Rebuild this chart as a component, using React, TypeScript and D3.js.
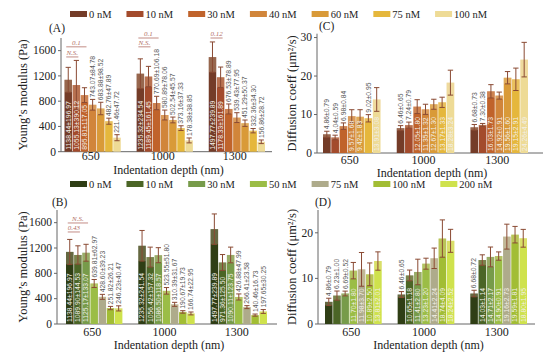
import React, { useEffect, useRef } from 'react'
import * as d3 from 'd3'

const depths = ['650', '1000', '1300']
const brownLabels = ['0 nM', '10 nM', '30 nM', '40 nM', '60 nM', '75 nM', '100 nM']
const greenLabels = ['0 nM', '10 nM', '30 nM', '50 nM', '75 nM', '100 nM', '200 nM']
const brownColors = ['#743c28', '#a34b2c', '#c0632b', '#d1853a', '#d99a38', '#e5b73c', '#eedb96']
const greenColors = ['#2f3e15', '#4b6526', '#779b4a', '#9bbd46', '#aeab8b', '#a2bd34', '#cfe24d']

// Young's modulus (Pa), brown series, one row per depth
const modulusA = [
  [1138.44, 1055.13, 895.81, 743.07, 683.88, 482.76, 221.46],
  [1235.32, 1189.45, 770.69, 580.89, 502.54, 373.16, 178.38],
  [1497.77, 1178.33, 676.53, 539.43, 451.29, 332.36, 156.86],
]
const modulusAErr = [
  [196.97, 390.12, 117.05, 84.78, 98.52, 47.89, 47.72],
  [234.54, 161.45, 106.18, 78.06, 45.57, 37.33, 38.85],
  [239.89, 161.89, 78.89, 77.95, 50.37, 34.3, 28.72],
]

// Young's modulus (Pa), green series
const modulusB = [
  [1138.44, 1089.9, 1125.17, 639.81, 428.6, 251.82, 246.23],
  [1235.32, 1056.42, 1086.5, 523.55, 310.39, 190.67, 166.74],
  [1497.77, 971.36, 1090.11, 426.88, 266.41, 140.46, 197.65],
]
const modulusBErr = [
  [196.97, 144.53, 133.07, 62.97, 39.23, 26.21, 40.47],
  [241.54, 157.32, 118.57, 51.8, 31.67, 19.73, 22.95],
  [239.89, 125.5, 123.75, 47.99, 23.58, 16.73, 30.25],
]

// Diffusion coefficient (um^2/s), brown series
const diffC = [
  [4.86, 4.04, 6.98, 9.57, 9.42, 9.02, 13.91],
  [6.46, 7.24, 12.05, 11.35, 12.67, 13.17, 18.28],
  [6.68, 7.3, 16.03, 14.92, 19.56, 19.15, 24.26],
]
const diffCErr = [
  [0.79, 0.59, 0.84, 1.68, 1.83, 0.95, 3.08],
  [0.65, 0.79, 1.8, 1.32, 1.3, 1.33, 3.24],
  [0.73, 0.38, 1.73, 0.91, 1.6, 2.91, 4.49],
]

// Diffusion coefficient (um^2/s), green series
const diffD = [
  [4.86, 6.23, 6.69, 11.7, 11.98, 10.89, 13.81],
  [6.46, 10.65, 11.41, 13.23, 14.41, 18.74, 18.24],
  [6.68, 14.03, 14.71, 14.9, 19.16, 19.59, 18.8],
]
const diffDErr = [
  [0.79, 1.0, 0.52, 1.8, 3.7, 2.5, 2.01],
  [0.65, 1.18, 2.8, 1.2, 2.24, 4.09, 2.52],
  [0.72, 1.14, 2.17, 0.91, 2.73, 1.81, 1.95],
]

// significance marks: group, first bar, last bar, height in data units, text
const marksA = [
  { group: 0, from: 0, to: 2, at: 1660, text: '0.1' },
  { group: 0, from: 0, to: 1, at: 1500, text: 'N.S.' },
  { group: 1, from: 0, to: 2, at: 1800, text: '0.1' },
  { group: 1, from: 0, to: 1, at: 1660, text: 'N.S.' },
  { group: 2, from: 0, to: 1, at: 1800, text: '0.12' },
]
const marksB = [
  { group: 0, from: 0, to: 2, at: 1595, text: 'N.S.' },
  { group: 0, from: 0, to: 1, at: 1453, text: '0.43' },
]

const serif = '"Liberation Serif", "Times New Roman", serif'
const sans = '"Liberation Sans", Arial, sans-serif'

const panels = [
  {
    tag: '(A)', tagX: 49, tagY: 32, values: modulusA, errs: modulusAErr, colors: brownColors, labels: brownLabels,
    axisX0: 61, axisX1: 272, bandX0: 64.5, bandX1: 265, y0: 151.7, y1: 38, max: 1800,
    ticks: [0, 400, 800, 1200, 1600], yTitle: 'Young\u2019s modulus (Pa)', yTitleX: 23,
    tickBase: 159.5, titleBase: 173.5, marks: marksA,
  },
  {
    tag: '(C)', tagX: 319, tagY: 30, values: diffC, errs: diffCErr, colors: brownColors, labels: brownLabels,
    axisX0: 317, axisX1: 543, bandX0: 323, bandX1: 528, y0: 153, y1: 33.7, max: 31,
    ticks: [0, 10, 20, 30], yTitle: 'Diffusion coeff (\u03bcm\u00b2/s)', yTitleX: 292,
    tickBase: 164, titleBase: 176.5, marks: [],
  },
  {
    tag: '(B)', tagX: 52, tagY: 206, values: modulusB, errs: modulusBErr, colors: greenColors, labels: greenLabels,
    axisX0: 57, axisX1: 277, bandX0: 66, bandX1: 267, y0: 324, y1: 210, max: 1800,
    ticks: [0, 400, 800, 1200, 1600], yTitle: 'Young\u2019s modulus (Pa)', yTitleX: 23,
    tickBase: 335.5, titleBase: 348.5, marks: marksB,
  },
  {
    tag: '(D)', tagX: 315, tagY: 206, values: diffD, errs: diffDErr, colors: greenColors, labels: greenLabels,
    axisX0: 318, axisX1: 535, bandX0: 325, bandX1: 527, y0: 324, y1: 210, max: 25,
    ticks: [0, 10, 20], yTitle: 'Diffusion coeff (\u03bcm\u00b2/s)', yTitleX: 292,
    tickBase: 335.5, titleBase: 348.5, marks: [],
  },
]

const legends = [
  { y: 14, labels: brownLabels, colors: brownColors },
  { y: 184, labels: greenLabels, colors: greenColors },
]

function drawLegend(svg, leg) {
  let x = 70
  leg.labels.forEach((lab, i) => {
    svg.append('rect')
      .attr('x', x).attr('y', leg.y - 3)
      .attr('width', 17).attr('height', 6)
      .attr('fill', leg.colors[i])
    const t = svg.append('text')
      .attr('x', x + 19).attr('y', leg.y + 3.6)
      .attr('font-family', serif).attr('font-size', 10.5)
      .attr('fill', '#222')
      .text(lab)
    const w = (t.node() as SVGTextElement).getComputedTextLength()
    x += 19 + w + 15
  })
}

function drawPanel(svg, p) {
  const g = svg.append('g')
  const y = d3.scaleLinear().domain([0, p.max]).range([p.y0, p.y1])
  const outer = d3.scaleBand().domain(depths).range([p.bandX0, p.bandX1]).paddingInner(0.22).paddingOuter(0)
  const inner = d3.scaleBand().domain(p.labels).range([0, outer.bandwidth()]).paddingInner(0.08)
  const bw = inner.bandwidth()

  // axes
  g.append('line')
    .attr('x1', p.axisX0).attr('x2', p.axisX1)
    .attr('y1', p.y0).attr('y2', p.y0)
    .attr('stroke', '#666').attr('stroke-width', 1)
  g.append('line')
    .attr('x1', p.axisX0).attr('x2', p.axisX0)
    .attr('y1', p.y0).attr('y2', p.y1)
    .attr('stroke', '#666').attr('stroke-width', 1)

  p.ticks.forEach((t) => {
    g.append('line')
      .attr('x1', p.axisX0 - 3).attr('x2', p.axisX0)
      .attr('y1', y(t)).attr('y2', y(t))
      .attr('stroke', '#666')
    g.append('text')
      .attr('x', p.axisX0 - 5).attr('y', y(t) + 3.8)
      .attr('text-anchor', 'end')
      .attr('font-family', serif).attr('font-size', 11.5)
      .attr('fill', '#222')
      .text(t)
  })

  depths.forEach((d) => {
    g.append('text')
      .attr('x', outer(d) + outer.bandwidth() / 2 - 2)
      .attr('y', p.tickBase)
      .attr('text-anchor', 'middle')
      .attr('font-family', serif).attr('font-size', 12)
      .attr('fill', '#222')
      .text(d)
  })

  g.append('text')
    .attr('x', (p.axisX0 + p.axisX1) / 2 + 2)
    .attr('y', p.titleBase)
    .attr('text-anchor', 'middle')
    .attr('font-family', serif).attr('font-size', 12)
    .attr('fill', '#222')
    .text('Indentation depth (nm)')

  g.append('text')
    .attr('transform', `translate(${p.yTitleX}, ${(p.y0 + p.y1) / 2}) rotate(-90)`)
    .attr('text-anchor', 'middle')
    .attr('dy', '0.35em')
    .attr('font-family', serif).attr('font-size', 12.5)
    .attr('fill', '#222')
    .text(p.yTitle)

  g.append('text')
    .attr('x', p.tagX).attr('y', p.tagY)
    .attr('font-family', serif).attr('font-size', 11.5)
    .attr('fill', '#222')
    .text(p.tag)

  // bars
  depths.forEach((d, gi) => {
    p.labels.forEach((lab, i) => {
      const v = p.values[gi][i]
      const e = p.errs[gi][i]
      const x = outer(d) + inner(lab)
      const cx = x + bw / 2
      g.append('rect')
        .attr('x', x).attr('y', y(v))
        .attr('width', bw).attr('height', p.y0 - y(v))
        .attr('fill', p.colors[i])
      g.append('rect')
        .attr('x', x).attr('y', y(v))
        .attr('width', bw).attr('height', y(Math.max(0, v - e)) - y(v))
        .attr('fill', '#f3d6b4').attr('opacity', 0.28)
      const ec = '#8a4a33'
      const cap = bw * 0.35
      g.append('line')
        .attr('x1', cx).attr('x2', cx)
        .attr('y1', y(v - e)).attr('y2', y(v + e))
        .attr('stroke', ec).attr('stroke-width', 1)
      ;[v - e, v + e].forEach((yy) => {
        g.append('line')
          .attr('x1', cx - cap).attr('x2', cx + cap)
          .attr('y1', y(yy)).attr('y2', y(yy))
          .attr('stroke', ec).attr('stroke-width', 1)
      })

      const label = `${v.toFixed(2)}\u00b1${e.toFixed(2)}`
      const t = g.append('text')
        .attr('font-family', sans).attr('font-size', 6.8)
        .text(label)
      const tw = (t.node() as SVGTextElement).getComputedTextLength()
      const inside = p.y0 - y(v) >= tw + 6
      const base = inside ? p.y0 - 2 : y(v + e) - 2
      t.attr('transform', `translate(${cx + 2.4}, ${base}) rotate(-90)`)
        .attr('fill', inside ? '#f2efe8' : '#5a5a5a')
    })
  })

  // significance marks
  p.marks.forEach((m) => {
    const d = depths[m.group]
    const xa = outer(d) + inner(p.labels[m.from]) + bw / 2 - 2
    const xb = outer(d) + inner(p.labels[m.to]) + bw / 2 + 2
    g.append('line')
      .attr('x1', xa).attr('x2', xb)
      .attr('y1', y(m.at)).attr('y2', y(m.at))
      .attr('stroke', '#b36f66').attr('stroke-width', 0.8)
    g.append('text')
      .attr('x', (xa + xb) / 2).attr('y', y(m.at) - 2)
      .attr('text-anchor', 'middle')
      .attr('font-family', serif).attr('font-size', 7)
      .attr('font-style', 'italic')
      .attr('fill', '#b36f66')
      .text(m.text)
  })
}

export default function App() {
  const ref = useRef<SVGSVGElement>(null)

  useEffect(() => {
    const svg = d3.select(ref.current)
    svg.selectAll('*').remove()
    svg.append('rect').attr('width', 550).attr('height', 359).attr('fill', '#fff')
    legends.forEach((l) => drawLegend(svg, l))
    panels.forEach((p) => drawPanel(svg, p))
  }, [])

  return (
    <svg
      ref={ref}
      width={550}
      height={359}
      style={{ position: 'absolute', left: 0, top: 0 }}
    />
  )
}
